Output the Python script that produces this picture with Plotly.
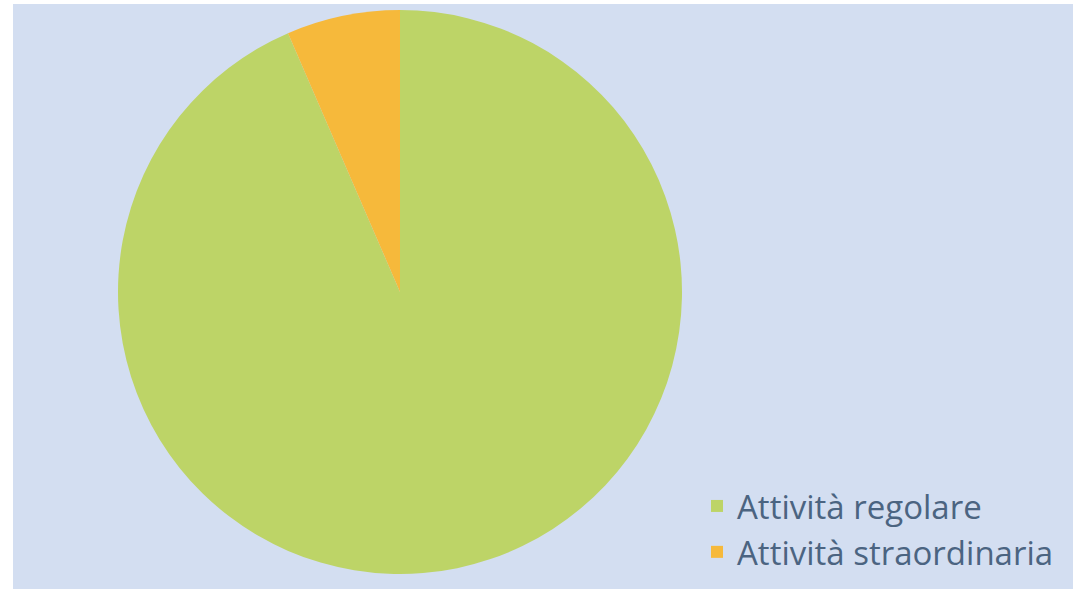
import plotly.graph_objects as go

categories = ["Attività regolare", "Attività straordinaria"]
values = [93.5, 6.5]
colors = ["#BDD467", "#F6B93B"]

W, H = 1092, 594

fig = go.Figure(go.Pie(
    labels=categories,
    values=values,
    sort=False,
    direction="clockwise",
    rotation=0,
    textinfo="none",
    hoverinfo="label+percent",
    marker=dict(colors=colors, line=dict(width=0)),
    domain=dict(x=[118 / W, 682 / W], y=[1 - 574 / H, 1 - 10 / H]),
))

fig.update_layout(
    width=W, height=H,
    margin=dict(l=0, r=0, t=0, b=0),
    paper_bgcolor="white",
    plot_bgcolor="white",
    showlegend=True,
    legend=dict(
        x=697 / W, y=1 - 478 / H, xanchor="left", yanchor="top",
        font=dict(family="Open Sans", size=33, color="#4B6481"),
        bgcolor="rgba(0,0,0,0)",
        tracegroupgap=0,
    ),
    shapes=[dict(
        type="rect", xref="paper", yref="paper",
        x0=13 / W, x1=1073 / W, y0=1 - 589 / H, y1=1 - 4 / H,
        fillcolor="#D3DEF1", line=dict(width=0), layer="below",
    )],
)

fig.write_html(
    "out.html",
    config={"displayModeBar": False},
    post_script="document.body.style.margin='0';document.body.style.overflow='hidden';",
)
